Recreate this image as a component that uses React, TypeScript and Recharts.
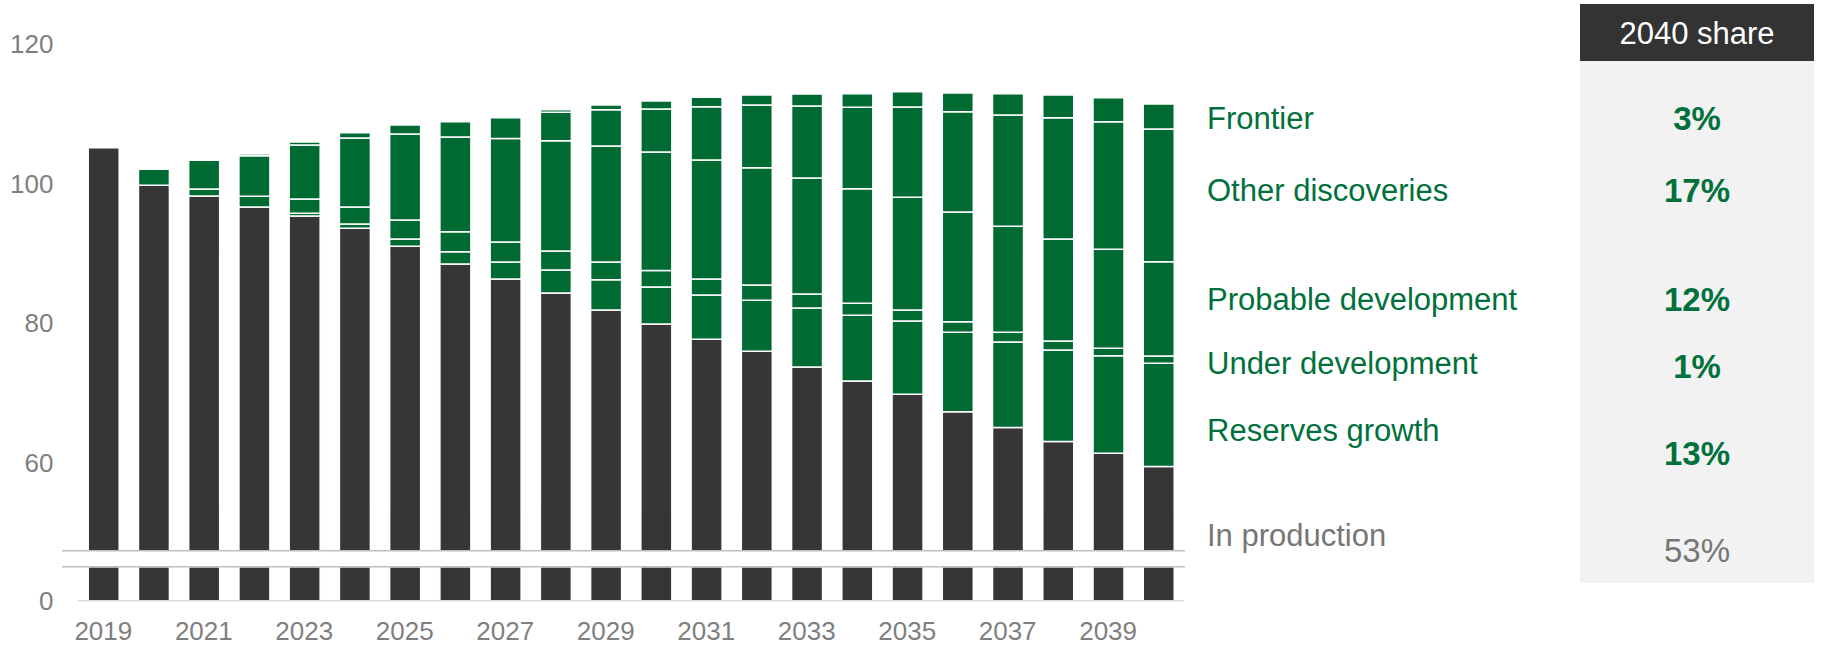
import React from 'react';
import { BarChart, Bar, XAxis, YAxis } from 'recharts';

// values, one per year
const years = ['2019', '2020', '2021', '2022', '2023', '2024', '2025', '2026', '2027', '2028', '2029', '2030', '2031', '2032', '2033', '2034', '2035', '2036', '2037', '2038', '2039', '2040'];
const inProduction = [105.09, 99.71, 98.18, 96.61, 95.33, 93.56, 91.0, 88.47, 86.33, 84.33, 81.9, 79.9, 77.71, 75.99, 73.75, 71.75, 69.85, 67.37, 65.09, 63.09, 61.42, 59.52];
const reservesGrowth = [0, 0, 0, 0, 0.38, 0.62, 1.04, 1.76, 2.43, 3.29, 4.33, 5.29, 6.33, 7.29, 8.43, 9.38, 10.48, 11.34, 12.24, 13.09, 13.95, 14.76];
const underDevelopment = [0, 0, 1.0, 1.52, 2.04, 2.43, 2.71, 2.86, 2.86, 2.71, 2.52, 2.33, 2.29, 2.19, 2.0, 1.72, 1.57, 1.52, 1.38, 1.29, 1.05, 1.05];
const probableDevelopment = [0, 2.28, 4.1, 5.81, 7.72, 9.86, 12.29, 13.52, 14.76, 15.76, 16.57, 16.95, 17.0, 16.76, 16.58, 16.38, 16.09, 15.67, 15.14, 14.57, 14.14, 13.47];
const otherDiscoveries = [0, 0, 0, 0.24, 0.43, 0.76, 1.29, 2.19, 3.0, 4.05, 5.19, 6.14, 7.62, 8.95, 10.28, 11.62, 12.91, 14.33, 15.9, 17.33, 18.24, 18.95];
const frontier = [0, 0, 0, 0, 0, 0, 0, 0, 0, 0.38, 0.67, 1.14, 1.33, 1.43, 1.71, 1.95, 2.19, 2.67, 3.05, 3.24, 3.43, 3.58];

const upperTicks = [60, 80, 100, 120];
const lowerTicks = [0];

// right-hand labels and 2040 shares
const seriesLabels = ['Frontier', 'Other discoveries', 'Probable development', 'Under development', 'Reserves growth', 'In production'];
const shares2040 = ['3%', '17%', '12%', '1%', '13%', '53%'];
const labelY = [118, 190, 299, 363, 430, 535];
const shareY = [118, 190, 299, 366, 453, 550];

const data = years.map((year, i) => ({
  year,
  inProduction: inProduction[i],
  reservesGrowth: reservesGrowth[i],
  underDevelopment: underDevelopment[i],
  probableDevelopment: probableDevelopment[i],
  otherDiscoveries: otherDiscoveries[i],
  frontier: frontier[i],
}));

const DARK = '#363636';
const GREEN = '#006A33';
const TEXT_GREEN = '#00703C';
const GREY = '#7F7F7F';
const FONT = 'Liberation Sans, Arial, sans-serif';

const tickStyle = { fill: GREY, fontSize: 26, fontFamily: FONT };

const greenKeys = ['reservesGrowth', 'underDevelopment', 'probableDevelopment', 'otherDiscoveries', 'frontier'];

const App = () => {
  return (
    <div style={{ position: 'absolute', left: 0, top: 0, width: 1826, height: 646, background: '#fff', fontFamily: FONT }}>
      {/* upper part of the broken axis: 47.5 to 120 */}
      <div style={{ position: 'absolute', left: 0, top: 0 }}>
        <BarChart width={1200} height={560} data={data} margin={{ top: 43.3, right: 16.5, bottom: 9.3, left: 0 }} barSize={31}>
          <XAxis dataKey="year" hide />
          <YAxis
            width={78.2}
            domain={[47.5, 120]}
            allowDataOverflow
            ticks={upperTicks}
            axisLine={false}
            tickLine={false}
            tickSize={0}
            tickMargin={24.7}
            tick={tickStyle}
          />
          <Bar dataKey="inProduction" stackId="a" fill={DARK} stroke="#fff" strokeWidth={1.5} isAnimationActive={false} />
          {greenKeys.map((k) => (
            <Bar key={k} dataKey={k} stackId="a" fill={GREEN} stroke="#fff" strokeWidth={1.5} isAnimationActive={false} />
          ))}
        </BarChart>
      </div>

      {/* lower stub of the axis: 0 to ~4.9 */}
      <div style={{ position: 'absolute', left: 0, top: 556 }}>
        <BarChart width={1200} height={90} data={data} margin={{ top: 10.7, right: 16.5, bottom: 0, left: 0 }} barSize={31}>
          <XAxis
            dataKey="year"
            height={45.3}
            interval={1}
            axisLine={{ stroke: '#D9D9D9', strokeWidth: 1.5 }}
            tickLine={false}
            tickSize={0}
            tickMargin={20.5}
            tick={tickStyle}
          />
          <YAxis
            width={78.2}
            domain={[0, 4.86]}
            allowDataOverflow
            ticks={lowerTicks}
            axisLine={false}
            tickLine={false}
            tickSize={0}
            tickMargin={24.7}
            tick={tickStyle}
          />
          <Bar dataKey="inProduction" stackId="a" fill={DARK} stroke="#fff" strokeWidth={1.5} isAnimationActive={false} />
        </BarChart>
      </div>

      {/* break lines, labels and share panel */}
      <svg width={1826} height={646} style={{ position: 'absolute', left: 0, top: 0, pointerEvents: 'none' }}>
        <line x1={62} x2={1185} y1={550.7} y2={550.7} stroke="#BFBFBF" strokeWidth={1.5} />
        <line x1={62} x2={1185} y1={566.7} y2={566.7} stroke="#BFBFBF" strokeWidth={1.5} />

        <rect x={1580} y={61} width={234} height={522} fill="#F2F2F2" />
        <rect x={1580} y={4} width={234} height={57} fill="#333333" />
        <text x={1697} y={33} textAnchor="middle" dominantBaseline="central" fill="#fff" fontSize={31} fontFamily={FONT}>
          2040 share
        </text>

        {seriesLabels.map((s, i) => (
          <text
            key={s}
            x={1207}
            y={labelY[i]}
            dominantBaseline="central"
            fill={i === seriesLabels.length - 1 ? '#767676' : TEXT_GREEN}
            fontSize={31}
            fontFamily={FONT}
          >
            {s}
          </text>
        ))}
        {shares2040.map((s, i) => {
          const last = i === shares2040.length - 1;
          return (
            <text
              key={s + i}
              x={1697}
              y={shareY[i]}
              textAnchor="middle"
              dominantBaseline="central"
              fill={last ? '#767676' : TEXT_GREEN}
              fontWeight={last ? 'normal' : 'bold'}
              fontSize={33}
              fontFamily={FONT}
            >
              {s}
            </text>
          );
        })}
      </svg>
    </div>
  );
};

export default App;
